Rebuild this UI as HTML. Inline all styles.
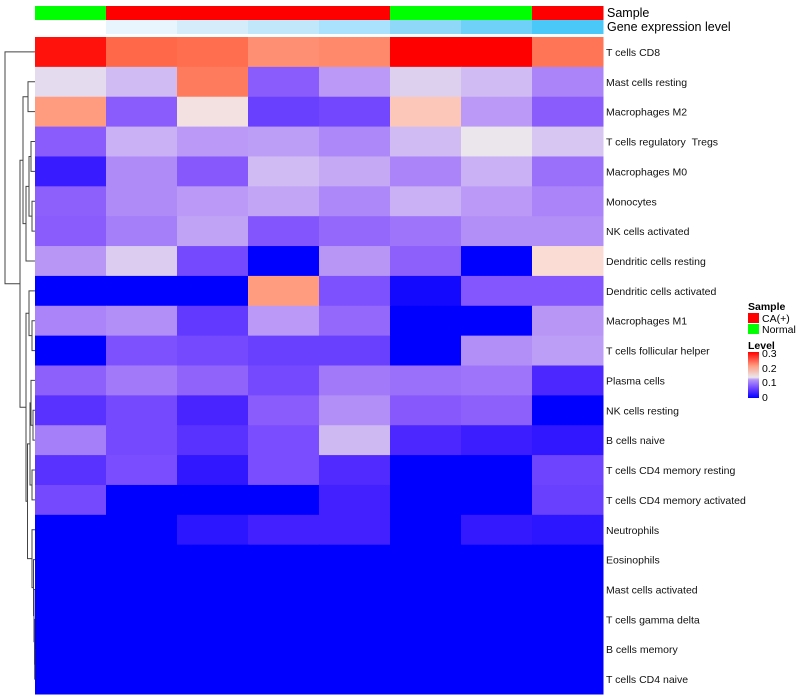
<!DOCTYPE html>
<html><head><meta charset="utf-8"><style>
body{margin:0;background:#fff;}
svg{display:block;font-family:"Liberation Sans",sans-serif;}
</style></head><body>
<svg id="chart" width="800" height="700" viewBox="0 0 800 700">
<defs><linearGradient id="lg" x1="0" y1="1" x2="0" y2="0">
<stop offset="0" stop-color="#0000FF"/><stop offset="0.2" stop-color="#6A40FF"/><stop offset="0.4" stop-color="#B898F6"/><stop offset="0.45" stop-color="#EAE6EC"/><stop offset="0.7" stop-color="#FF9C80"/><stop offset="1" stop-color="#FF0000"/></linearGradient></defs>
<g id="cells"></g>
<g id="annot"></g>
<g id="labels"></g>
<g id="dendro"></g>
<text x="607" y="17" font-size="12.5">Sample</text>
<text x="607" y="31" font-size="12.5">Gene expression level</text>
<g>
<text x="748" y="310" font-size="10.5" font-weight="bold">Sample</text>
<rect x="748" y="313" width="11" height="10" fill="#FF0000"/>
<text x="762" y="322" font-size="10.5">CA(+)</text>
<rect x="748" y="324" width="11" height="10" fill="#00FF00"/>
<text x="762" y="333" font-size="10.5">Normal</text>
<text x="748" y="349" font-size="10.5" font-weight="bold">Level</text>
<rect x="748" y="352" width="11" height="46" fill="url(#lg)"/>
<text x="762" y="357" font-size="10.5">0.3</text>
<text x="762" y="372" font-size="10.5">0.2</text>
<text x="762" y="386" font-size="10.5">0.1</text>
<text x="762" y="401" font-size="10.5">0</text>
</g>
</svg>
<script>
const rowNames=["T cells CD8","Mast cells resting","Macrophages M2","T cells regulatory \u00a0Tregs","Macrophages M0","Monocytes","NK cells activated","Dendritic cells resting","Dendritic cells activated","Macrophages M1","T cells follicular helper","Plasma cells","NK cells resting","B cells naive","T cells CD4 memory resting","T cells CD4 memory activated","Neutrophils","Eosinophils","Mast cells activated","T cells gamma delta","B cells memory","T cells CD4 naive"];
const sampleGroups=["Normal","CA","CA","CA","CA","Normal","Normal","CA"];
const exprLevel=[0,1,2,3,4,5,6,7];
const r0=[0.29,0.24,0.235,0.21,0.215,0.3,0.3,0.23];
const r1=[0.12,0.105,0.225,0.06,0.09,0.115,0.105,0.08];
const r2=[0.2,0.06,0.14,0.04,0.045,0.17,0.09,0.06];
const r3=[0.06,0.1,0.09,0.092,0.082,0.105,0.125,0.11];
const r4=[0.015,0.083,0.058,0.105,0.097,0.08,0.1,0.07];
const r5=[0.062,0.083,0.09,0.095,0.082,0.1,0.09,0.08];
const r6=[0.06,0.077,0.094,0.055,0.066,0.072,0.085,0.085];
const r7=[0.088,0.113,0.047,0,0.088,0.062,0,0.155];
const r8=[0,0,0,0.2,0.052,0.005,0.056,0.056];
const r9=[0.08,0.085,0.035,0.09,0.066,0,0,0.088];
const r10=[0,0.052,0.047,0.04,0.04,0,0.085,0.092];
const r11=[0.062,0.075,0.064,0.047,0.075,0.07,0.072,0.022];
const r12=[0.03,0.047,0.02,0.06,0.085,0.058,0.062,0];
const r13=[0.077,0.047,0.03,0.05,0.104,0.022,0.016,0.013];
const r14=[0.03,0.05,0.013,0.05,0.024,0,0,0.043];
const r15=[0.047,0,0,0,0.018,0,0,0.04];
const r16=[0,0,0.012,0.018,0.018,0,0.014,0.012];
const r17=[0,0,0,0,0,0,0,0];
const r18=[0,0,0,0,0,0,0,0];
const r19=[0,0,0,0,0,0,0,0];
const r20=[0,0,0,0,0,0,0,0];
const r21=[0,0,0,0,0,0,0,0];
const values=[r0,r1,r2,r3,r4,r5,r6,r7,r8,r9,r10,r11,r12,r13,r14,r15,r16,r17,r18,r19,r20,r21];

const X0=35,X1=603,Y0=37,Y1=694;
const nC=8,nR=rowNames.length;
const cw=(X1-X0)/nC, rh=(Y1-Y0)/nR;
const xPos=c=>X0+c*cw, yPos=r=>Y0+r*rh;
const stops=[[0,[0,0,255]],[0.02,[74,36,255]],[0.04,[106,64,255]],[0.06,[138,92,252]],[0.08,[170,132,248]],[0.1,[202,176,244]],[0.125,[234,230,236]],[0.155,[250,220,212]],[0.2,[255,156,128]],[0.24,[255,104,72]],[0.3,[255,0,0]]];
function col(v){v=Math.max(0,Math.min(0.3,v));for(let i=1;i<stops.length;i++){if(v<=stops[i][0]){const a=stops[i-1],b=stops[i],t=(v-a[0])/(b[0]-a[0]);return 'rgb('+a[1].map((q,k)=>Math.round(q+(b[1][k]-q)*t)).join(',')+')';}}return 'rgb(255,0,0)';}
const NS='http://www.w3.org/2000/svg';
function mk(tag,at,parent){const e=document.createElementNS(NS,tag);for(const k in at)e.setAttribute(k,at[k]);parent.appendChild(e);return e;}
const cells=document.getElementById('cells');
values.forEach((row,r)=>row.forEach((v,c)=>{
 const e=mk('rect',{x:xPos(c),y:yPos(r),width:cw+0.5,height:rh+0.5,fill:col(v)},cells);
 
 
}));
const annot=document.getElementById('annot');
const exprCols=["#FFFFFF","#E8F5FD","#D5EDFA","#C0E7FA","#AAE1FC","#90D8F8","#70D1F8","#4AC9F8"];
sampleGroups.forEach((g,c)=>{
 const e=mk('rect',{x:xPos(c),y:6,width:cw+0.5,height:14,fill:g==="CA"?"#FF0000":"#00FF00"},annot);
 
 
 const f=mk('rect',{x:xPos(c),y:20,width:cw+0.5,height:14,fill:exprCols[exprLevel[c]]},annot);
 
 
});
const labels=document.getElementById('labels');
rowNames.forEach((n,r)=>{
 const t=mk('text',{x:606,y:yPos(r)+rh/2+4,'font-size':10.5,fill:'#111'},labels);
 t.textContent=n;
 
 
});
const tree=[5,0,[20,[23,[28,1,2],[26,[29,[31,3,4],[32,5,6]],7]],[26,[29,8,[32,9,10]],[27.5,[30,[31,11,[33,12,13]],[32,14,15]],[32,16,[33.5,17,[34,18,[34.5,19,[34.7,20,21]]]]]]]]];
const dg=document.getElementById('dendro');
function draw(n){
 if(typeof n==='number')return {y:yPos(n)+rh/2,x:X0};
 const a=draw(n[1]),b=draw(n[2]),h=n[0];
 const p=mk('path',{d:`M${a.x},${a.y}H${h}V${b.y}H${b.x}`,fill:'none',stroke:'#444','stroke-width':1},dg);
 
 
 return {y:(a.y+b.y)/2,x:h};
}
draw(tree);
</script>
</body></html>
